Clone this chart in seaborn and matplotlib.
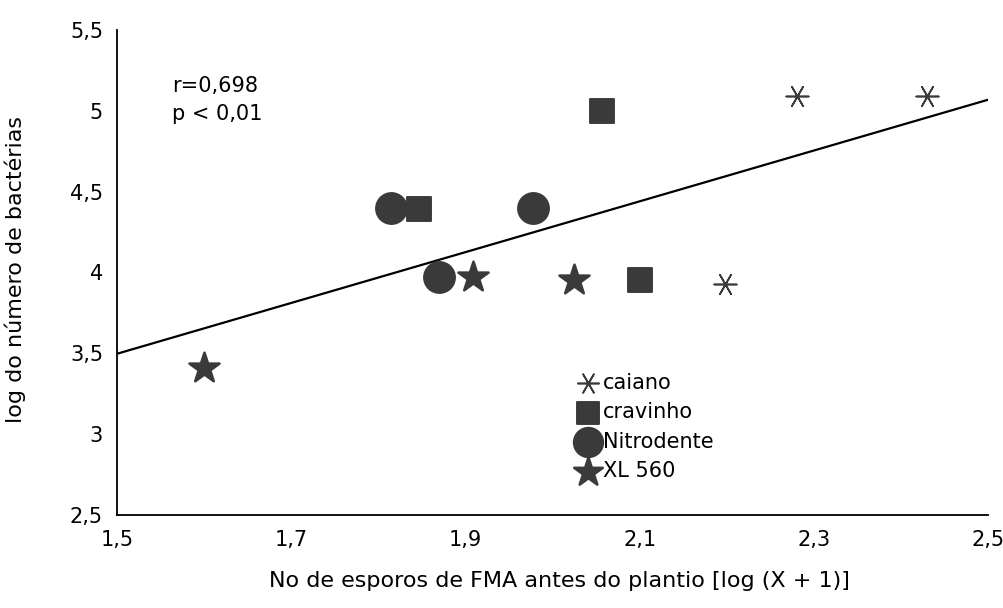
import numpy as np
import pandas as pd
import matplotlib
matplotlib.use("Agg")
import matplotlib.pyplot as plt
import seaborn as sns

# data
caiano_x = [2.28, 2.43, 2.198]
caiano_y = [5.09, 5.09, 3.93]
cravinho_x = [2.057, 1.847, 2.10]
cravinho_y = [5.00, 4.395, 3.95]
nitro_x = [1.815, 1.977, 1.869]
nitro_y = [4.40, 4.40, 3.97]
xl_x = [1.60, 1.908, 2.024]
xl_y = [3.41, 3.97, 3.95]

labels = ["caiano", "cravinho", "Nitrodente", "XL 560"]
xticks = [1.5, 1.7, 1.9, 2.1, 2.3, 2.5]
xtick_labels = ["1,5", "1,7", "1,9", "2,1", "2,3", "2,5"]
yticks = [2.5, 3, 3.5, 4, 4.5, 5, 5.5]
ytick_labels = ["2,5", "3", "3,5", "4", "4,5", "5", "5,5"]

df = pd.DataFrame({
    "x": caiano_x + cravinho_x + nitro_x + xl_x,
    "y": caiano_y + cravinho_y + nitro_y + xl_y,
    "cultivar": ["caiano"] * 3 + ["cravinho"] * 3 + ["Nitrodente"] * 3 + ["XL 560"] * 3,
})

sns.set_style("white")
plt.rcParams["font.family"] = ["DejaVu Sans"]
plt.rcParams["text.color"] = "black"
plt.rcParams["axes.labelcolor"] = "black"
plt.rcParams["xtick.color"] = "black"
plt.rcParams["ytick.color"] = "black"

fig = plt.figure(figsize=(10.04, 6.08), dpi=100)
ax = fig.add_axes([0.1165, 0.153, 0.868, 0.798])
ax.set_xlim(1.5, 2.5)
ax.set_ylim(2.5, 5.5)

dark = "#3a3a3a"
styles = {
    "caiano": dict(marker=(6, 2, 90), s=260, linewidths=1.2, edgecolor=dark, color=dark),
    "cravinho": dict(marker="s", s=300, color=dark, edgecolor=dark),
    "Nitrodente": dict(marker="o", s=480, color=dark, edgecolor=dark),
    "XL 560": dict(marker="*", s=520, color=dark, edgecolor=dark),
}

# regression line over all points
sns.regplot(data=df, x="x", y="y", ax=ax, scatter=False, ci=None, truncate=False,
            line_kws=dict(color="black", lw=1.6))

for lab in labels:
    sub = df[df["cultivar"] == lab]
    sns.scatterplot(data=sub, x="x", y="y", ax=ax, label=lab, zorder=3, **styles[lab])

ax.set_xticks(xticks)
ax.set_xticklabels(xtick_labels, fontsize=15)
ax.set_yticks(yticks)
ax.set_yticklabels(ytick_labels, fontsize=15)
ax.tick_params(axis="x", length=0, pad=11)
ax.tick_params(axis="y", length=0, pad=10)

ax.set_xlabel("No de esporos de FMA antes do plantio [log (X + 1)]", fontsize=16)
ax.set_ylabel("log do número de bactérias", fontsize=16)
ax.xaxis.set_label_coords(0.508, -0.115)
ax.yaxis.set_label_coords(-0.117, 0.505)
ax.yaxis.label.set_va("center")
ax.xaxis.label.set_va("top")

for side in ["top", "right"]:
    ax.spines[side].set_visible(False)
for side in ["left", "bottom"]:
    ax.spines[side].set_color("black")
    ax.spines[side].set_linewidth(1.3)

ax.text(0.063, 0.905, "r=0,698\np < 0,01", transform=ax.transAxes, fontsize=15,
        va="top", ha="left", linespacing=1.5)

ax.legend(loc="upper left", bbox_to_anchor=(0.515, 0.31), frameon=False, fontsize=15,
          handletextpad=0.1, labelspacing=0.45, borderaxespad=0, handlelength=1.3,
          markerscale=0.95)

fig.savefig("out.png", dpi=100)
